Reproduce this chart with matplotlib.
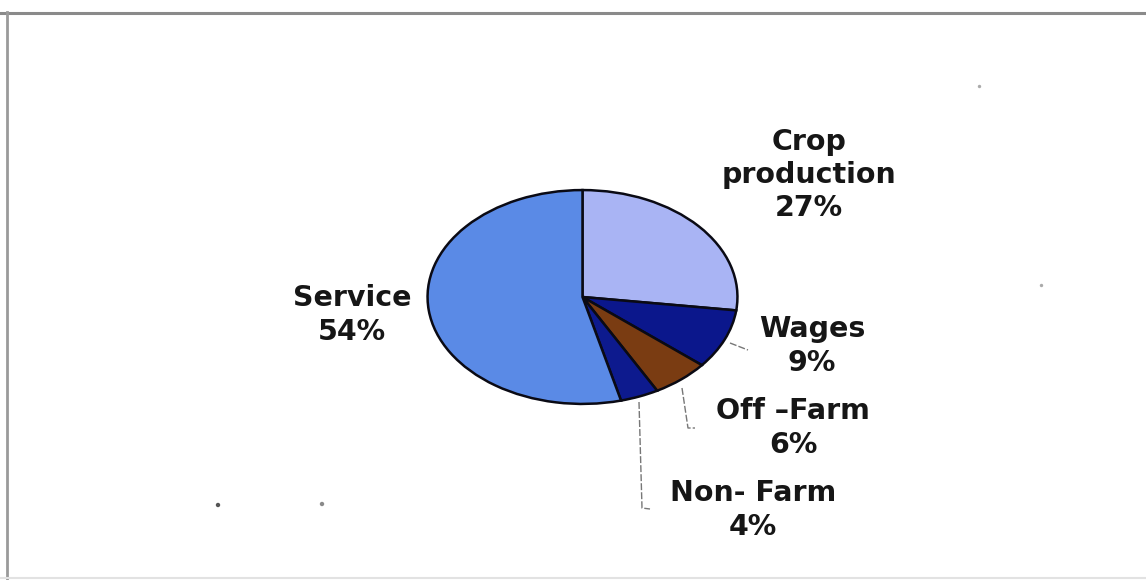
import matplotlib.pyplot as plt

# income sources, clockwise from the top
labels = ["Crop\nproduction", "Wages", "Off \u2013Farm", "Non- Farm", "Service"]
shares = [27, 9, 6, 4, 54]
colors = ["#a9b4f4", "#0b178c", "#7a3c12", "#0d1a8e", "#5a8ae6"]

# label centres and leader lines, in pixels from the top-left corner
label_pos = [(809, 175), (812, 346), (793, 428), (753, 510), (352, 315)]
leaders = [
    None,
    [(730, 343), (748, 350)],
    [(682, 388), (688, 428), (695, 428)],
    [(639, 402), (642, 508), (650, 509)],
    None,
]

W, H = 1146, 580
fig = plt.figure(figsize=(W / 100, H / 100), dpi=100)
fig.patch.set_facecolor("white")

# the pie sits in its own axes so it can be drawn as an ellipse
left, top, right, bottom = 426, 189, 739, 405
ax = fig.add_axes([left / W, 1 - bottom / H, (right - left) / W, (bottom - top) / H])
ax.pie(shares, colors=colors, startangle=90, counterclock=False,
       wedgeprops=dict(edgecolor="#0a0a14", linewidth=1.8))
ax.set_aspect("auto")
ax.set_xlim(-1.01, 1.01)
ax.set_ylim(-1.01, 1.01)
ax.axis("off")

# overlay in pixel coordinates for labels, leaders and frame
ov = fig.add_axes([0, 0, 1, 1], zorder=3)
ov.set_xlim(0, W)
ov.set_ylim(H, 0)
ov.axis("off")
ov.patch.set_alpha(0)

for lab, val, (x, y), lead in zip(labels, shares, label_pos, leaders):
    ov.text(x, y, f"{lab}\n{val}%", ha="center", va="center", fontsize=20.5,
            fontweight="bold", family="DejaVu Sans", color="#161616",
            linespacing=1.25)
    if lead:
        xs, ys = zip(*lead)
        ov.plot(xs, ys, color="#777777", linewidth=1.0, linestyle=(0, (5, 1.5)))

# scanned page border
ov.plot([0, W], [12.5, 12.5], color="#8a8a8a", linewidth=2.2)
ov.plot([7, 7], [12, H], color="#9a9a9a", linewidth=2.0)
ov.plot([0, W], [578, 578], color="#e2e2e2", linewidth=1.5)

# specks on the page
ov.scatter([218, 322], [505, 504], s=10, color=["#555555", "#8a8a8a"], linewidths=0)
ov.scatter([979, 1041], [86, 285], s=6, color="#aaaaaa", linewidths=0)

fig.savefig("out.png", dpi=100, facecolor="white")
